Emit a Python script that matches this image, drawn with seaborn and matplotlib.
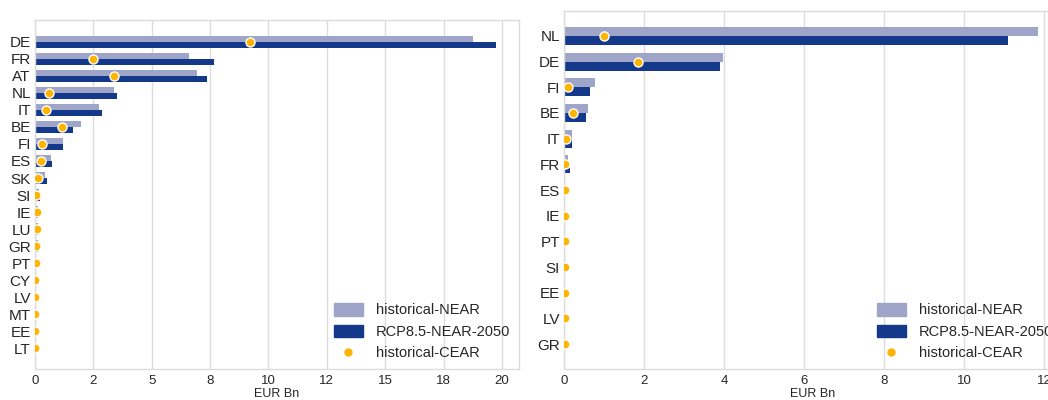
import matplotlib
matplotlib.use("Agg")
import matplotlib.pyplot as plt
import pandas as pd
import seaborn as sns
from matplotlib.lines import Line2D
from matplotlib.patches import Patch
from matplotlib.ticker import FuncFormatter, MultipleLocator

sns.set_style("white")
plt.rcParams["font.family"] = ["Liberation Sans", "DejaVu Sans"]

LIGHT = "#9fa5c9"
DARK = "#14388a"
ORANGE = "#ffb400"
GRID = "#dcdcdc"

# left panel
left_countries = ["DE", "FR", "AT", "NL", "IT", "BE", "FI", "ES", "SK", "SI",
                  "IE", "LU", "GR", "PT", "CY", "LV", "MT", "EE", "LT"]
left_hist_near = [18.75, 6.6, 6.95, 3.4, 2.75, 1.97, 1.19, 0.67, 0.42, 0.18,
                  0.13, 0.13, 0.13, 0.03, 0.01, 0.01, 0.01, 0.01, 0.01]
left_rcp_near = [19.75, 7.65, 7.35, 3.53, 2.86, 1.64, 1.19, 0.73, 0.5, 0.2,
                 0.13, 0.13, 0.13, 0.03, 0.01, 0.01, 0.01, 0.01, 0.01]
left_hist_cear = [9.2, 2.48, 3.38, 0.59, 0.48, 1.16, 0.3, 0.27, 0.14, 0.05,
                  0.08, 0.08, 0.06, 0.03, 0.02, 0.02, 0.02, 0.02, 0.02]

# right panel
right_countries = ["NL", "DE", "FI", "BE", "IT", "FR", "ES", "IE", "PT", "SI",
                   "EE", "LV", "GR"]
right_hist_near = [11.85, 3.97, 0.78, 0.59, 0.2, 0.11, 0.03, 0.01, 0.005,
                   0.005, 0.005, 0.005, 0.005]
right_rcp_near = [11.1, 3.9, 0.66, 0.54, 0.21, 0.14, 0.03, 0.01, 0.005,
                  0.005, 0.005, 0.005, 0.005]
right_hist_cear = [1.01, 1.85, 0.1, 0.22, 0.04, 0.03, 0.03, 0.03, 0.02,
                   0.02, 0.02, 0.02, 0.02]

series_names = ["historical-NEAR", "RCP8.5-NEAR-2050", "historical-CEAR"]


def draw_panel(ax, countries, hist_near, rcp_near, hist_cear, xmax, step, pad):
    df = pd.DataFrame({
        "country": countries * 2,
        "value": hist_near + rcp_near,
        "series": [series_names[0]] * len(countries) + [series_names[1]] * len(countries),
    })
    sns.barplot(data=df, x="value", y="country", hue="series", orient="h",
                palette=[LIGHT, DARK], width=0.7, dodge=True, ax=ax,
                legend=False, saturation=1, edgecolor="none")
    sns.stripplot(x=hist_cear, y=countries, orient="h", jitter=False,
                  color=ORANGE, size=6.5, edgecolor="white", linewidth=1,
                  ax=ax, zorder=5)
    ax.set_xlim(0, xmax)
    n = len(countries)
    ax.set_ylim(n - 1 + pad[1], -pad[0])
    ax.xaxis.set_major_locator(MultipleLocator(step))
    ax.xaxis.set_major_formatter(FuncFormatter(lambda v, p: f"{v:.0f}"))
    ax.grid(axis="x", color=GRID, linewidth=1)
    ax.set_axisbelow(True)
    for s in ax.spines.values():
        s.set_color(GRID)
        s.set_linewidth(1)
    ax.tick_params(axis="y", labelsize=11, length=0, pad=3)
    ax.tick_params(axis="x", labelsize=9.5, length=0, pad=4)
    ax.set_ylabel("")
    ax.set_xlabel("EUR Bn", fontsize=9, labelpad=1)
    handles = [Patch(color=LIGHT), Patch(color=DARK),
               Line2D([], [], marker="o", linestyle="none", color=ORANGE,
                      markersize=5)]
    ax.legend(handles, series_names, loc="lower right", frameon=False,
              fontsize=10.5, handlelength=2.0, handleheight=0.9,
              handletextpad=0.9, borderaxespad=0.2, labelspacing=0.5)


fig = plt.figure(figsize=(10.48, 4.0), dpi=100)
ax1 = fig.add_axes([35 / 1048, 31 / 400, 484 / 1048, 349 / 400])
ax2 = fig.add_axes([564 / 1048, 31 / 400, 498 / 1048, 358 / 400])

draw_panel(ax1, left_countries, left_hist_near, left_rcp_near, left_hist_cear,
           20.73, 2.5, (1.29, 1.23))
draw_panel(ax2, right_countries, right_hist_near, right_rcp_near, right_hist_cear,
           12.45, 2, (0.97, 0.97))

fig.savefig("out.png", dpi=100)
